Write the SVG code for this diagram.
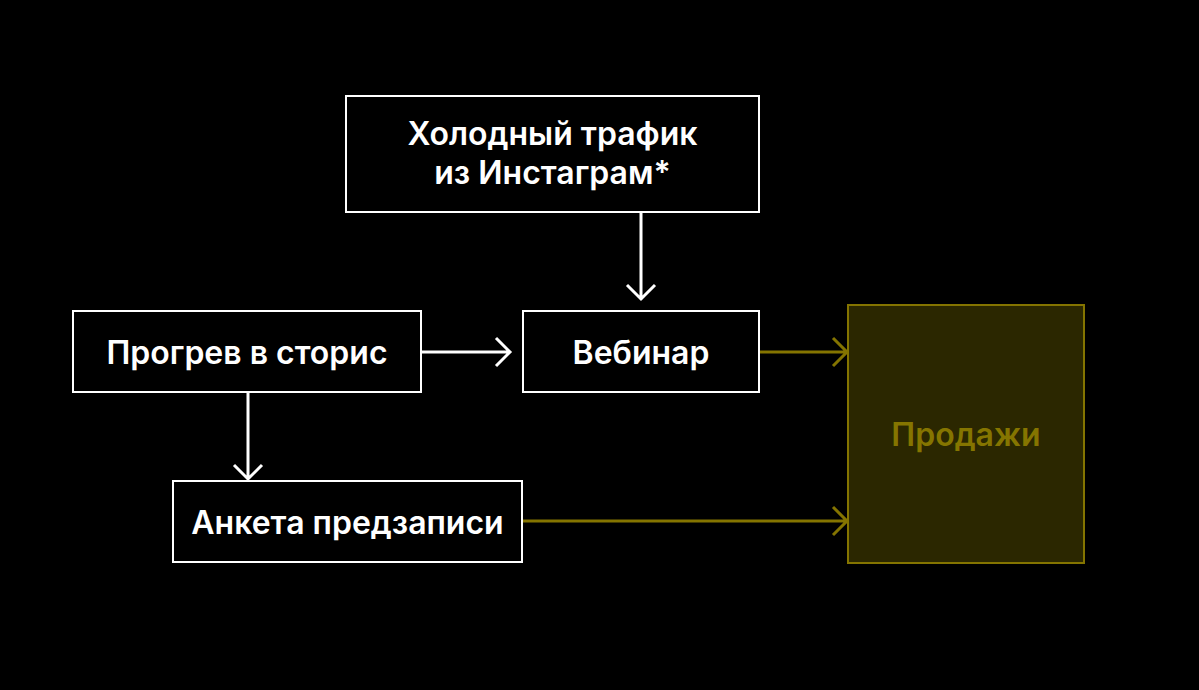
<svg xmlns="http://www.w3.org/2000/svg" width="1199" height="690" viewBox="0 0 1199 690">
<defs>
<style>
.box{fill:#000;stroke:#fff;stroke-width:2}
.t{font-family:Inter,"Noto Sans",sans-serif;font-weight:600;font-size:32px;fill:#fff;text-anchor:middle}
.w{fill:none;stroke:#fff;stroke-width:3}
.o{fill:none;stroke:#847400;stroke-width:3}
</style>
</defs>
<rect width="1199" height="690" fill="#000"/>
<g id="connectors">
<path class="w" d="M641 213V299M627 285L641 299L655 285"/>
<path class="w" d="M422 352H510M496 338L510 352L496 366"/>
<path class="w" d="M248 393V479M234 465L248 479L262 465"/>
<path class="o" d="M760 352H847M833 338L847 352L833 366"/>
<path class="o" d="M523 521H847M833 507L847 521L833 535"/>
</g>
<g id="cold">
<rect class="box" x="346" y="96" width="413" height="116"/>
<text class="t" x="552.5" y="145">Холодный трафик</text>
<text class="t" x="552.5" y="184">из Инстаграм*</text>
</g>
<g id="warmup">
<rect class="box" x="73" y="311" width="348" height="81"/>
<text class="t" x="247" y="364">Прогрев в сторис</text>
</g>
<g id="webinar">
<rect class="box" x="523" y="311" width="236" height="81"/>
<text class="t" x="641" y="364">Вебинар</text>
</g>
<g id="form">
<rect class="box" x="173" y="481" width="349" height="81"/>
<text class="t" x="347.5" y="534">Анкета предзаписи</text>
</g>
<g id="sales">
<rect x="848" y="305" width="236" height="258" fill="#2b2700" stroke="#847400" stroke-width="2"/>
<text class="t" x="966" y="446" style="fill:#857500">Продажи</text>
</g>
</svg>
